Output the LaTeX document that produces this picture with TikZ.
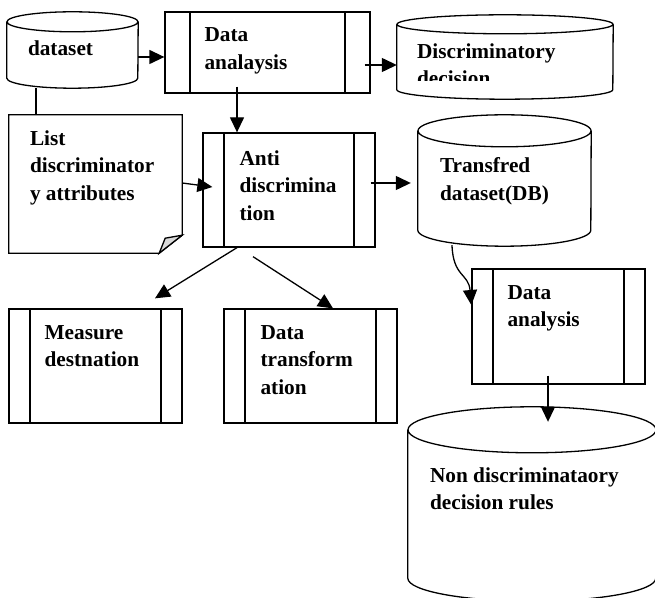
\documentclass[tikz,border=0pt]{standalone}
\usepackage{fontspec}
\setmainfont{Liberation Serif}
\usetikzlibrary{positioning,arrows.meta}

%% cylinder outline round an empty node: name, x radius, y radius
\newcommand{\drawDatabase}[3]{%
  \draw[lineDecorate] ([yshift=-#3]#1.north west) -- ([yshift=#3]#1.south west)
    arc[start angle=180,end angle=360,x radius=#2,y radius=#3]
    -- ([yshift=-#3]#1.north east)
    ([yshift=-#3]#1.north) ellipse[x radius=#2,y radius=#3];
}
%% document outline with folded corner
\newcommand{\drawDocument}[1]{%
  \draw[lineDecorate] (#1.north west) -- (#1.north east) -- ([yshift=18pt]#1.south east)
    -- ([xshift=-23pt]#1.south east) -- (#1.south west) -- cycle;
  \draw[lineDecorate,fill=gray!30] ([xshift=-23pt]#1.south east) -- ([yshift=18pt]#1.south east)
    -- ([xshift=-17pt,yshift=15pt]#1.south east) -- cycle;
}

\begin{document}
\begin{tikzpicture}
[x=1pt,y=1pt,
  lineDecorate/.style={line width=1.3pt},%
  arrowDecorate/.style={line width=1.3pt,-{Triangle[length=15pt,width=14pt]}},%
  boxDecorate/.style={shape=rectangle,draw,line width=1.3pt,inner sep=0pt,
    path picture={\draw[line width=1.3pt]
      ([xshift=#1]path picture bounding box.north west) -- ([xshift=#1]path picture bounding box.south west)
      ([xshift=-#1]path picture bounding box.north east) -- ([xshift=-#1]path picture bounding box.south east);}},%
  dbDecorate/.style={shape=rectangle,inner sep=0pt},%
  textDecorate/.style={align=left,inner sep=0pt,font=\fontsize{21.3}{27.5}\selectfont\bfseries}]
\clip (0,0) rectangle (655,597);
%% process boxes
\foreach \nodename/\x/\y/\w/\h/\barw/\dx/\dy/\nodelabel in {
  da1/267.5/544.5/205pt/81pt/25pt/40pt/16.4pt/{Data\\analaysis},
  anti/289/407/172pt/114pt/21pt/37pt/17.7pt/{Anti\\discrimina\\tion},
  da2/558.5/270.5/173pt/115pt/21pt/36pt/16.7pt/{Data\\analysis},
  meas/95.5/231/173pt/114pt/21pt/36pt/16.7pt/{Measure\\destnation},
  dtr/310.5/231/173pt/114pt/21pt/37pt/16.7pt/{Data\\transform\\ation}}
{
  \node (\nodename) at (\x,\y) [boxDecorate=\barw,minimum width=\w,minimum height=\h] {};
  \node (\nodename-text) [textDecorate,below right=\dy and \dx of \nodename.north west] {\nodelabel};
}
%% databases
\foreach \nodename/\x/\y/\w/\h/\rx/\ry/\dx/\dy/\nodelabel in {
  ds/72.5/547/131pt/76pt/65.5pt/10pt/21pt/28.7pt/dataset,
  tds/504.5/416.5/173pt/131pt/86.5pt/16pt/22pt/42.7pt/{Transfred\\dataset(DB)},
  ndr/532/93/248pt/194pt/124pt/23pt/22pt/60.7pt/{Non discriminataory\\decision rules}}
{
  \node (\nodename) at (\x,\y) [dbDecorate,minimum width=\w,minimum height=\h] {};
  \drawDatabase{\nodename}{\rx}{\ry}
  \node (\nodename-text) [textDecorate,below right=\dy and \dx of \nodename.north west] {\nodelabel};
}
\node (dd) at (505,540) [dbDecorate,minimum width=216pt,minimum height=84pt] {};
\drawDatabase{dd}{108pt}{9.5pt}
\begin{scope}
  \clip (dd.north west) rectangle ([yshift=-24pt]dd.east);
  \node (dd-text) [textDecorate,below right=28.7pt and 20pt of dd.north west] {Discriminatory\\decision};
\end{scope}
%% document
\node (list) at (95.5,413) [dbDecorate,minimum width=173pt,minimum height=138pt] {};
\drawDocument{list}
\node (list-text) [textDecorate,below right=15.7pt and 21pt of list.north west] {List\\discriminator\\y attributes};
%% connectors
\draw[lineDecorate] ([xshift=-36.5pt]ds.south) -- ([xshift=-36.5pt]ds.south |- list.north);
\draw[arrowDecorate] ([yshift=-7pt]ds.east) -- ([yshift=-7pt]ds.east -| da1.west);
\draw[arrowDecorate] ([xshift=-6pt,yshift=-12.5pt]da1.east) -- ([yshift=-12.5pt]da1.east -| dd.west);
\draw[arrowDecorate] ([xshift=-30.5pt,yshift=7pt]da1.south) -- ([xshift=-30.5pt]da1.south |- anti.north);
\draw[arrowDecorate] ([yshift=1pt]list.east) -- ([xshift=10pt,yshift=3pt]anti.west);
\draw[arrowDecorate] ([xshift=-5pt,yshift=7pt]anti.east) -- ([xshift=-7pt,yshift=7pt]anti.east -| tds.west);
\draw[arrowDecorate] ([xshift=-52pt]anti.south) -- ([xshift=59.5pt,yshift=10pt]meas.north);
\draw[arrowDecorate] ([xshift=-36pt,yshift=-9pt]anti.south) -- ([xshift=22.5pt]dtr.north);
\draw[arrowDecorate] ([xshift=-52.5pt,yshift=1pt]tds.south) to[out=-88,in=95,looseness=1.3] ([yshift=21.5pt]da2.west);
\draw[arrowDecorate] ([xshift=-10.5pt,yshift=9pt]da2.south) -- ([xshift=-10.5pt,yshift=-15pt]da2.south |- ndr.north);
\end{tikzpicture}
\end{document}
